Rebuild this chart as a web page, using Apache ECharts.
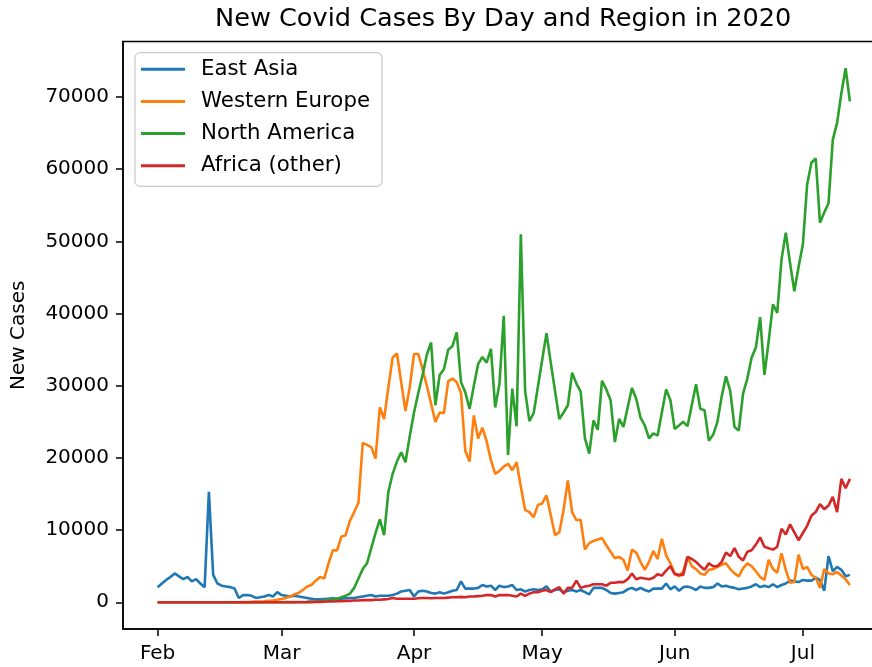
<!DOCTYPE html>
<html><head><meta charset="utf-8">
<script src="https://cdn.jsdelivr.net/npm/echarts@6/dist/echarts.min.js"></script>
<style>html,body{margin:0;padding:0;background:#fff}#c{width:872px;height:667px}</style>
</head><body><div id="c"></div>
<script>
// Day 0 = 2020-02-01
const monthTicks = [0, 29, 60, 90, 121, 151];
const monthLabels = ['Feb', 'Mar', 'Apr', 'May', 'Jun', 'Jul'];
const yTicks = [0, 10000, 20000, 30000, 40000, 50000, 60000, 70000];
const seriesNames = ['East Asia', 'Western Europe', 'North America', 'Africa (other)'];

const eastAsia = [
2100,2600,3100,3500,4000,3600,3200,3500,2900,3200,
2600,2100,15300,3800,2600,2300,2200,2100,1900,600,
1000,1000,900,600,700,800,1000,800,1400,1000,
900,800,900,800,700,600,500,400,400,450,
500,550,500,500,550,600,600,700,800,900,
1000,800,900,900,900,1000,1200,1500,1600,1700,
800,1500,1600,1500,1300,1200,1400,1200,1400,1600,
1700,2900,1900,1900,1900,2000,2400,2200,2300,1700,
2300,2100,2200,2400,1700,1800,1500,1700,1800,1700,
1800,2200,1500,1700,1800,1400,1600,1700,1500,1700,
1400,1100,2000,2000,2000,1700,1300,1200,1300,1400,
1800,2000,1700,2000,1700,1500,1900,1900,1900,2600,
1800,2200,1600,2100,2200,2000,1700,2200,2000,2000,
2100,2600,2200,2300,2100,2000,1800,1900,2000,2200,
2500,2100,2300,2100,2500,2100,2400,2600,3000,2900,
2800,3100,3000,3000,3400,3100,1600,6400,4300,4900,
4500,3600,3800];

const westernEurope = [
3,2,1,4,2,3,1,2,1,0,
1,2,0,1,2,1,0,3,1,2,
20,25,60,90,100,130,200,250,350,450,
600,800,1100,1300,1700,2200,2400,3000,3500,3300,
5400,7200,7200,9100,9300,11300,12500,13800,22100,21800,
21500,19900,27000,25400,29800,33900,34500,30500,26500,29800,
34400,34400,32300,30000,27500,25000,26300,26200,30600,31000,
30500,29000,21000,19500,25900,22700,24200,22300,19700,17800,
18200,18800,19200,18300,19400,16000,12800,12500,11800,13500,
13700,14800,12100,9300,9700,12800,16900,12500,11400,11400,
7300,8200,8500,8700,8900,7900,7000,6100,6300,5900,
4400,7300,6900,5600,4500,5600,7100,6000,8800,6500,
5400,4000,3600,4300,6300,5000,4600,4000,3800,4500,
4600,4900,5200,5400,4600,4000,3600,4700,5400,5000,
4300,3500,3100,5900,4600,4100,6800,4500,2700,2800,
6600,4600,4900,3800,3400,2000,4600,4000,3900,4200,
3700,3200,2400];

const northAmerica = [
2,0,1,0,3,0,0,1,0,0,
1,0,1,0,0,1,0,0,0,1,
0,1,3,0,2,1,3,5,8,12,
20,18,30,45,50,60,90,120,150,250,
300,350,500,700,900,1200,2000,3300,4600,5400,
7500,9600,11500,9300,15300,17800,19500,20800,19400,23000,
26300,29000,31500,34300,36000,27300,31500,32300,35000,35500,
37400,30500,29100,26800,30000,33000,34000,33200,35100,27000,
30300,39700,20400,29600,24400,51000,29300,25100,26200,29900,
33600,37300,33200,29300,25400,26300,27300,31800,30300,29200,
22700,20600,25200,23900,30700,29500,28000,22200,25400,24300,
27000,29700,28200,25600,24500,22700,23400,23100,26300,29500,
28000,24000,24500,25000,24400,27300,30200,26800,26600,22400,
23200,25000,28500,31300,29300,24300,23800,28900,31000,33900,
35300,39500,31500,36200,41300,40100,47500,51200,47000,43100,
46500,49600,57900,60900,61500,52600,54000,55300,64100,66400,
70500,74000,69400];

const africaOther = [
0,0,0,0,0,0,0,0,0,0,
0,0,0,0,1,0,0,0,0,0,
0,0,0,1,0,1,2,1,3,2,
3,5,8,10,15,20,30,40,60,80,
100,100,150,150,200,200,250,250,300,300,
300,350,350,400,450,600,500,500,500,500,
500,550,600,600,550,600,600,600,650,700,
700,750,700,800,800,850,900,1000,1000,800,
1000,1000,1000,900,800,1200,900,1200,1400,1400,
1600,1700,1400,1800,2100,1200,2000,2000,3000,2000,
2200,2300,2500,2500,2500,2300,2700,2700,2800,2800,
3200,4000,3200,3400,3300,3200,3400,3900,3700,4400,
5000,3900,3800,3800,6300,6000,5600,5000,4500,5400,
5000,5000,5600,6900,6400,7500,6300,5800,7000,7200,
8000,9000,7700,7500,7300,7700,10200,9400,10800,9700,
8600,9600,10600,12000,12500,13600,12900,13400,14600,12500,
17100,15800,17100];

const colors = ['#1f77b4', '#ff7f0e', '#2ca02c', '#d62728'];
const allSeries = [eastAsia, westernEurope, northAmerica, africaOther];

const nDays = eastAsia.length;
const xMargin = (nDays - 1) * 0.05;
let yMax = 0, yMin = 0;
allSeries.forEach(s => s.forEach(v => { if (v > yMax) yMax = v; }));
const yPad = (yMax - yMin) * 0.05;

const FONT = 'DejaVu Sans';
const chart = echarts.init(document.getElementById('c'), null, {renderer: 'canvas'});
chart.setOption({
  animation: false,
  backgroundColor: '#fff',
  textStyle: {fontFamily: FONT},
  title: {
    text: 'New Covid Cases By Day and Region in 2020',
    left: 215, top: 4, padding: 0,
    textStyle: {fontFamily: FONT, fontSize: 25.6, fontWeight: 'normal', color: '#000', lineHeight: 30}
  },
  legend: {
    orient: 'vertical',
    left: 135, top: 52.7,
    data: seriesNames,
    icon: 'rect', itemWidth: 44, itemHeight: 3,
    itemGap: 8.2,
    padding: [4.5, 12, 8.5, 6],
    borderColor: '#cccccc', borderWidth: 1.3, borderRadius: 5,
    backgroundColor: 'rgba(255,255,255,0.8)',
    textStyle: {fontFamily: FONT, fontSize: 21.3, color: '#000', lineHeight: 24, padding: [0, 0, 0, 11]}
  },
  grid: {left: 123, top: 41.5, right: -12.5, bottom: 38, show: true, borderColor: '#000', borderWidth: 1.5,
         containLabel: false, outerBoundsMode: 'none'},
  xAxis: {
    type: 'value', min: -xMargin, max: nDays - 1 + xMargin,
    splitLine: {show: false},
    axisLine: {show: true, onZero: false, lineStyle: {color: '#000', width: 1.5}},
    axisTick: {show: true, length: 7, lineStyle: {color: '#000', width: 1.5}, customValues: monthTicks},
    axisLabel: {color: '#000', fontSize: 20, fontFamily: FONT, margin: 15, customValues: monthTicks,
      formatter: v => monthLabels[monthTicks.indexOf(Math.round(v))] || ''}
  },
  yAxis: {
    type: 'value', min: yMin - yPad, max: yMax + yPad,
    name: 'New Cases', nameLocation: 'middle', nameGap: 94, nameRotate: 90,
    nameTextStyle: {fontFamily: FONT, fontSize: 20, color: '#000'},
    splitLine: {show: false},
    axisLine: {show: true, onZero: false, lineStyle: {color: '#000', width: 1.5}},
    axisTick: {show: true, length: 7, lineStyle: {color: '#000', width: 1.5}, customValues: yTicks},
    axisLabel: {color: '#000', fontSize: 20, fontFamily: FONT, margin: 14, customValues: yTicks,
      formatter: v => String(Math.round(v))}
  },
  series: allSeries.map((arr, k) => ({
    name: seriesNames[k],
    type: 'line',
    data: arr.map((v, i) => [i, v]),
    showSymbol: false, symbol: 'none',
    color: colors[k],
    lineStyle: {color: colors[k], width: 2.6},
    itemStyle: {color: colors[k]},
    z: 2 + k
  }))
});
</script></body></html>
